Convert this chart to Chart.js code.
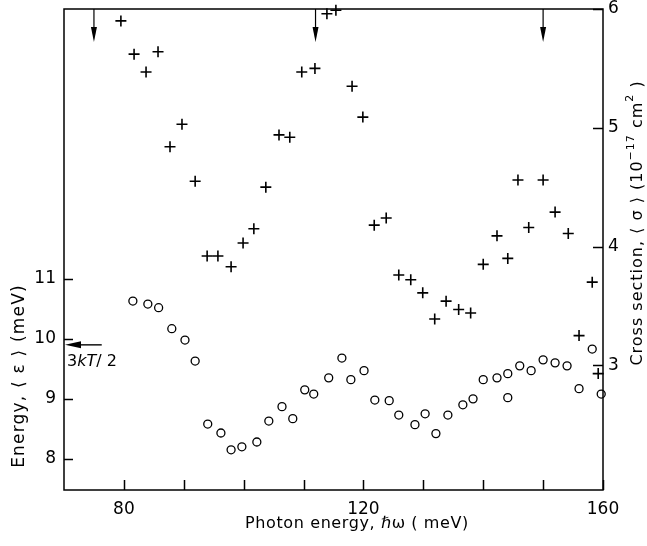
<!DOCTYPE html>
<html>
<head>
<meta charset="utf-8">
<script src="https://cdn.jsdelivr.net/npm/chart.js@4.4.1/dist/chart.umd.min.js"></script>
<style>
html,body{margin:0;padding:0;background:#fff;}
#wrap{width:647px;height:546px;position:relative;}
</style>
</head>
<body>
<div id="wrap"><canvas id="c" width="647" height="546"></canvas></div>
<script>
// ---- data ----
const photonX_sigma = [79.5, 81.7, 83.7, 85.7, 87.7, 89.7, 91.9, 93.9, 95.7, 97.9, 99.9, 101.7, 103.7, 105.9, 107.7, 109.7, 111.9, 113.9, 115.4, 118.1, 119.9, 121.8, 123.8, 125.9, 127.9, 129.9, 131.9, 133.8, 135.9, 137.9, 140.0, 142.3, 144.1, 145.8, 147.6, 150.0, 152.0, 154.2, 156.0, 158.2, 159.2];
const crossSection = [5.90, 5.62, 5.47, 5.64, 4.84, 5.03, 4.55, 3.92, 3.92, 3.83, 4.03, 4.15, 4.50, 4.94, 4.92, 5.47, 5.50, 5.96, 5.99, 5.35, 5.09, 4.18, 4.24, 3.76, 3.72, 3.61, 3.39, 3.54, 3.47, 3.44, 3.85, 4.09, 3.90, 4.56, 4.16, 4.56, 4.29, 4.11, 3.25, 3.70, 2.93];
const photonX_energy = [81.5, 84.0, 85.8, 88.0, 90.2, 91.9, 94.0, 96.2, 97.9, 99.7, 102.2, 104.2, 106.4, 108.2, 110.2, 111.7, 114.2, 116.4, 117.9, 120.1, 121.9, 124.3, 125.9, 128.6, 130.3, 132.1, 134.1, 136.6, 138.3, 140.0, 142.3, 144.1, 144.1, 146.1, 148.0, 150.0, 152.0, 154.0, 156.0, 158.2, 159.7];
const meanEnergy = [10.63, 10.58, 10.52, 10.17, 9.98, 9.63, 8.58, 8.43, 8.15, 8.20, 8.28, 8.63, 8.87, 8.67, 9.15, 9.08, 9.35, 9.68, 9.32, 9.47, 8.98, 8.97, 8.73, 8.57, 8.75, 8.42, 8.73, 8.90, 9.00, 9.32, 9.35, 9.42, 9.02, 9.55, 9.47, 9.65, 9.60, 9.55, 9.17, 9.83, 9.08];

const xTickLabels = [80, 120, 160];
const xMinorTicks = [90, 100, 110, 130, 140, 150];
const leftTicks = [8, 9, 10, 11];
const rightTicks = [3, 4, 5, 6];
const arrowX = [75, 112, 150];      // downward arrows at top
const kTLevel = 9.9;                // 3kT/2 marker on energy axis
const kTArrowStart = 76.3;

const FONT = "'DejaVu Sans', sans-serif";

function drawSegs(ctx, segs, x, y, spacing) {
  ctx.letterSpacing = (spacing || 0) + 'px';
  let total = 0;
  segs.forEach(s => { ctx.font = (s.italic ? 'italic ' : '') + s.size + 'px ' + FONT; s.w = ctx.measureText(s.t).width; total += s.w; });
  let cx = x - total / 2;
  ctx.textAlign = 'left';
  ctx.textBaseline = 'alphabetic';
  segs.forEach(s => {
    ctx.font = (s.italic ? 'italic ' : '') + s.size + 'px ' + FONT;
    ctx.fillText(s.t, cx, y + (s.dy || 0));
    cx += s.w;
  });
  ctx.letterSpacing = '0px';
}

const decor = {
  id: 'decor',
  afterDraw(chart) {
    const ctx = chart.ctx;
    const {left, right, top, bottom} = chart.chartArea;
    const x = chart.scales.x, y = chart.scales.y, y2 = chart.scales.y2;
    ctx.save();
    ctx.strokeStyle = '#000';
    ctx.fillStyle = '#000';
    ctx.lineWidth = 1.5;
    ctx.strokeRect(left, top, right - left, bottom - top);
    ctx.beginPath();
    [...xTickLabels, ...xMinorTicks].forEach(v => {
      const px = Math.round(x.getPixelForValue(v)) + 0.5;
      ctx.moveTo(px, bottom); ctx.lineTo(px, bottom - 10);
    });
    leftTicks.forEach(v => {
      const py = Math.round(y.getPixelForValue(v)) + 0.5;
      ctx.moveTo(left, py); ctx.lineTo(left + 9, py);
    });
    rightTicks.forEach(v => {
      const py = Math.round(y2.getPixelForValue(v)) + 0.5;
      ctx.moveTo(right, py); ctx.lineTo(right - 10, py);
    });
    ctx.stroke();

    // top arrows
    ctx.lineWidth = 1.2;
    arrowX.forEach(v => {
      const px = x.getPixelForValue(v);
      ctx.beginPath(); ctx.moveTo(px, top); ctx.lineTo(px, top + 20); ctx.stroke();
      ctx.beginPath(); ctx.moveTo(px - 3, top + 18); ctx.lineTo(px + 3, top + 18); ctx.lineTo(px, top + 33); ctx.closePath(); ctx.fill();
    });

    // 3kT/2 arrow
    const ky = y.getPixelForValue(kTLevel);
    const kx = x.getPixelForValue(kTArrowStart);
    ctx.lineWidth = 1.4;
    ctx.beginPath(); ctx.moveTo(kx, ky); ctx.lineTo(left + 8, ky); ctx.stroke();
    ctx.beginPath(); ctx.moveTo(left + 1, ky); ctx.lineTo(left + 17, ky - 3.5); ctx.lineTo(left + 17, ky + 3.5); ctx.closePath(); ctx.fill();
    ctx.textAlign = 'left'; ctx.textBaseline = 'alphabetic';
    let tx = left + 3; const tyy = ky + 21;
    ctx.font = '16px ' + FONT; ctx.fillText('3', tx, tyy); tx += ctx.measureText('3').width;
    ctx.font = 'italic 16px ' + FONT; ctx.fillText('kT', tx, tyy); tx += ctx.measureText('kT').width;
    ctx.font = '16px ' + FONT; ctx.fillText('/ 2', tx, tyy);

    // axis titles
    drawSegs(ctx, [{t: 'Photon energy, ', size: 16}, {t: 'ℏω', size: 16}, {t: ' ( meV)', size: 16}], 357, 528, 0.6);

    ctx.save();
    ctx.translate(24, 376); ctx.rotate(-Math.PI / 2);
    drawSegs(ctx, [{t: 'Energy, ⟨ ε ⟩ (meV)', size: 17}], 0, 0, 1.2);
    ctx.restore();

    ctx.save();
    ctx.translate(642, 223); ctx.rotate(-Math.PI / 2);
    drawSegs(ctx, [{t: 'Cross section, ⟨ σ ⟩ (10', size: 16}, {t: '−17', size: 11, dy: -8}, {t: ' cm', size: 16}, {t: '2', size: 11, dy: -9}, {t: ' )', size: 16}], 0, 0, 1);
    ctx.restore();

    ctx.restore();
  }
};

Chart.defaults.font.family = FONT;
Chart.defaults.font.size = 17;
Chart.defaults.color = '#000';

new Chart(document.getElementById('c'), {
  type: 'scatter',
  data: {
    datasets: [
      {
        label: 'Cross section',
        data: photonX_sigma.map((v, i) => ({x: v, y: crossSection[i]})),
        yAxisID: 'y2',
        pointStyle: 'cross',
        pointRadius: 5.5,
        borderColor: '#000',
        borderWidth: 1.6,
        clip: false
      },
      {
        label: 'Energy',
        data: photonX_energy.map((v, i) => ({x: v, y: meanEnergy[i]})),
        yAxisID: 'y',
        pointStyle: 'circle',
        pointRadius: 4,
        borderColor: '#000',
        backgroundColor: 'rgba(255,255,255,0)',
        borderWidth: 1.3,
        clip: false
      }
    ]
  },
  options: {
    responsive: false,
    animation: false,
    devicePixelRatio: 1,
    layout: {padding: {top: 9, left: 0, right: 0, bottom: 0}},
    plugins: {legend: {display: false}, tooltip: {enabled: false}},
    scales: {
      x: {
        type: 'linear', position: 'bottom', min: 70, max: 160,
        grid: {display: false, drawTicks: false},
        border: {display: false},
        afterBuildTicks: s => { s.ticks = xTickLabels.map(v => ({value: v})); },
        afterFit: s => { s.height = 56; s.paddingLeft = 0; s.paddingRight = 0; },
        ticks: {padding: 9, maxRotation: 0, autoSkip: false, callback: v => String(v)}
      },
      y: {
        type: 'linear', position: 'left', min: 7.48, max: 15.5,
        grid: {display: false, drawTicks: false},
        border: {display: false},
        afterBuildTicks: s => { s.ticks = leftTicks.map(v => ({value: v})); },
        afterFit: s => { s.width = 64; s.paddingTop = 0; s.paddingBottom = 0; },
        ticks: {padding: 8, autoSkip: false, callback: v => String(v)}
      },
      y2: {
        type: 'linear', position: 'right', min: 1.95, max: 6.0,
        grid: {display: false, drawTicks: false},
        border: {display: false},
        afterBuildTicks: s => { s.ticks = rightTicks.map(v => ({value: v})); },
        afterFit: s => { s.width = 44; s.paddingTop = 0; s.paddingBottom = 0; },
        ticks: {padding: 5, autoSkip: false, callback: v => String(v)}
      }
    }
  },
  plugins: [decor]
});
</script>
</body>
</html>
